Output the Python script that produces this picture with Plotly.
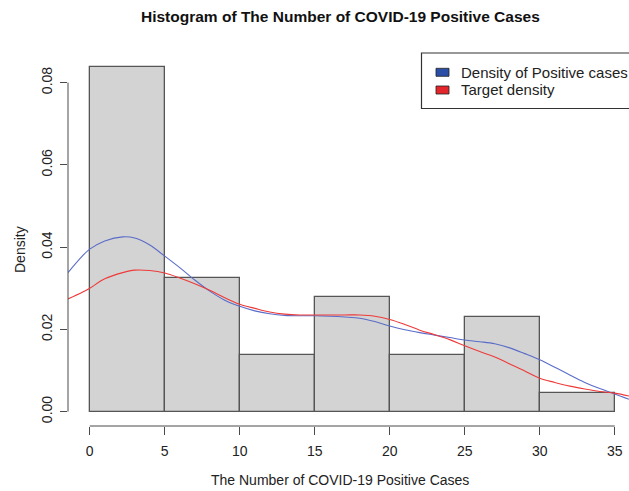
import plotly.graph_objects as go

# ---- data ----
bin_edges = [0, 5, 10, 15, 20, 25, 30, 35]
bin_density = [0.0837, 0.0325, 0.0138, 0.0278, 0.0138, 0.0231, 0.0045]

kde_x = [-1.45, -0.5, 0, 1, 2.2, 3, 4, 5, 6, 7, 8, 9, 10, 11, 12, 13, 14, 15, 16, 17,
         18, 19, 20, 21, 22, 23, 24, 25, 26, 27, 28, 29, 30, 31, 32, 33, 34, 35, 35.95]
kde_pos = [0.0338, 0.0378, 0.0395, 0.0415, 0.0425, 0.0422, 0.0405, 0.0378, 0.0350, 0.0320,
           0.0293, 0.0271, 0.0256, 0.0245, 0.0238, 0.0234, 0.0233, 0.0233, 0.0232, 0.0230,
           0.0227, 0.0219, 0.0208, 0.0199, 0.0192, 0.0186, 0.0180, 0.0174, 0.0170, 0.0165,
           0.0155, 0.0141, 0.0126, 0.0108, 0.0089, 0.0071, 0.0056, 0.0043, 0.0030]
kde_target = [0.0274, 0.0290, 0.0300, 0.0323, 0.0338, 0.0344, 0.0343, 0.0337, 0.0325, 0.0311,
              0.0295, 0.0277, 0.0261, 0.0251, 0.0242, 0.0237, 0.0235, 0.0235, 0.0235, 0.0235,
              0.0235, 0.0232, 0.0224, 0.0212, 0.0198, 0.0187, 0.0175, 0.0160, 0.0146, 0.0133,
              0.0116, 0.0099, 0.0081, 0.0071, 0.0062, 0.0055, 0.0049, 0.0045, 0.0038]

x_ticks = [0, 5, 10, 15, 20, 25, 30, 35]
y_ticks = [0.00, 0.02, 0.04, 0.06, 0.08]
y_tick_text = ["0.00", "0.02", "0.04", "0.06", "0.08"]

legend_labels = ["Density of Positive cases", "Target density"]
legend_fill = ["#2b4fa6", "#e3262b"]

title_text = "Histogram of The Number of COVID-19 Positive Cases"
x_title = "The Number of COVID-19 Positive Cases"
y_title = "Density"

FONT = "Liberation Sans, Arial, Helvetica, sans-serif"
AX = "#4a4a4a"

mids = [(bin_edges[i] + bin_edges[i + 1]) / 2 for i in range(len(bin_density))]
widths = [bin_edges[i + 1] - bin_edges[i] for i in range(len(bin_density))]

fig = go.Figure()
fig.add_trace(go.Bar(
    x=mids, y=bin_density, width=widths,
    marker=dict(color="#d3d3d3", line=dict(color="#555555", width=1.3)),
    showlegend=False, hoverinfo="skip"))
fig.add_trace(go.Scatter(
    x=kde_x, y=kde_pos, mode="lines", line=dict(color="#5a6cc8", width=1.1, shape="spline"),
    showlegend=False))
fig.add_trace(go.Scatter(
    x=kde_x, y=kde_target, mode="lines", line=dict(color="#ef3a3a", width=1.1, shape="spline"),
    showlegend=False))

L, T, B = 68, 53, 65
W, H = 629, 491
pw, ph = W - L, H - T - B

def px_x(p):
    return (p - L) / pw

def px_y(p):
    return (H - B - p) / ph

shapes = [
    dict(type="line", xref="x", yref="paper", x0=x_ticks[0], x1=x_ticks[-1], y0=0, y1=0,
         line=dict(color=AX, width=1)),
    dict(type="line", xref="paper", yref="y", x0=0, x1=0, y0=y_ticks[0], y1=y_ticks[-1],
         line=dict(color=AX, width=1)),
    dict(type="rect", xref="paper", yref="paper", x0=px_x(421.5), x1=px_x(660),
         y0=px_y(108.5), y1=px_y(53), line=dict(color="#333333", width=1.2),
         fillcolor="rgba(255,255,255,0)"),
]
leg_y = [72.3, 90.0]
annotations = []
for lab, col, yy in zip(legend_labels, legend_fill, leg_y):
    shapes.append(dict(type="rect", xref="paper", yref="paper",
                       x0=px_x(436), x1=px_x(449), y0=px_y(yy + 4), y1=px_y(yy - 4),
                       fillcolor=col, line=dict(color="#222222", width=0.8)))
    annotations.append(dict(text=lab, xref="paper", yref="paper", x=px_x(459), y=px_y(yy),
                            xanchor="left", yanchor="middle", showarrow=False,
                            font=dict(family=FONT, size=15, color="#222222")))

annotations.append(dict(text=x_title, xref="paper", yref="paper", x=px_x(340), y=px_y(480),
                        xanchor="center", yanchor="middle", showarrow=False,
                        font=dict(family=FONT, size=14, color="#222222")))
annotations.append(dict(text=y_title, xref="paper", yref="paper", x=px_x(20), y=px_y(250),
                        xanchor="center", yanchor="middle", showarrow=False, textangle=-90,
                        font=dict(family=FONT, size=14, color="#222222")))
annotations.append(dict(text="<b>" + title_text + "</b>", xref="paper", yref="paper",
                        x=px_x(340), y=px_y(17), xanchor="center", yanchor="middle",
                        showarrow=False, font=dict(family=FONT, size=15.5, color="#111111")))

fig.update_layout(
    width=W, height=H,
    margin=dict(l=L, r=0, t=T, b=B, autoexpand=False),
    paper_bgcolor="white", plot_bgcolor="white",
    bargap=0, showlegend=False,
    shapes=shapes, annotations=annotations,
    font=dict(family=FONT, color="#222222"),
    xaxis=dict(range=[-1.45, 35.95], tickvals=x_ticks, ticks="outside", ticklen=8,
               tickcolor=AX, showgrid=False, zeroline=False, showline=False,
               tickfont=dict(size=14, family=FONT, color="#222222"), ticklabelstandoff=4),
    yaxis=dict(range=[-0.0035, 0.0872], tickvals=y_ticks, ticktext=y_tick_text,
               ticks="outside", ticklen=7, tickcolor=AX, showgrid=False, zeroline=False,
               showline=False, tickangle=-90,
               tickfont=dict(size=14, family=FONT, color="#222222"), ticklabelstandoff=2),
)

fig.write_html("out.html", config={"displayModeBar": False},
               post_script="document.body.style.margin='0';document.body.style.overflow='hidden';")
